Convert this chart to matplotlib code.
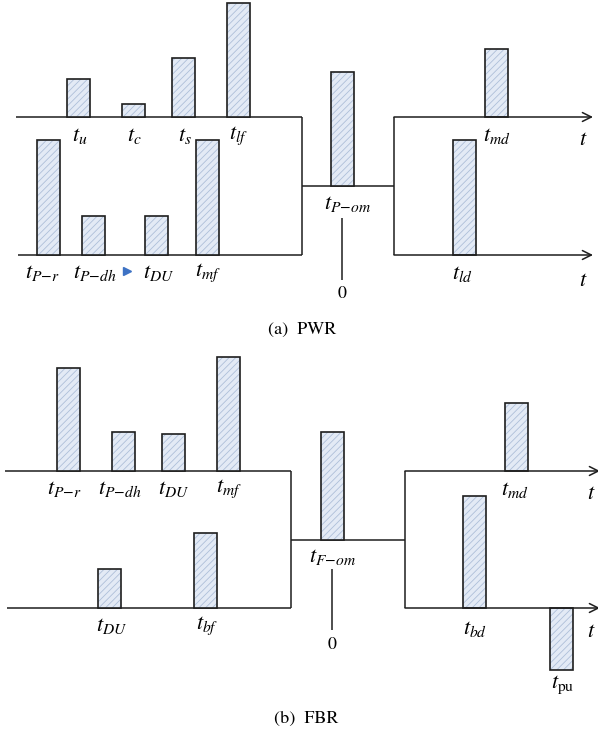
import matplotlib
matplotlib.use("Agg")
import matplotlib.pyplot as plt

plt.rcParams['mathtext.fontset'] = 'stix'
plt.rcParams['hatch.linewidth'] = 0.6

# ---------------- data ----------------
# PWR (a)
pwr_upper_labels = [r'$t_{u}$', r'$t_{c}$', r'$t_{s}$', r'$t_{lf}$']
pwr_upper_heights = [38, 13, 59, 114]
pwr_lower_labels = [r'$t_{P{-}r}$', r'$t_{P{-}dh}$', r'$t_{DU}$', r'$t_{mf}$']
pwr_lower_heights = [115, 39, 39, 115]
pwr_mid_labels = [r'$t_{P{-}om}$']
pwr_mid_heights = [114]
pwr_rup_labels = [r'$t_{md}$']
pwr_rup_heights = [68]
pwr_rlow_labels = [r'$t_{ld}$']
pwr_rlow_heights = [115]

# FBR (b)
fbr_upper_labels = [r'$t_{P{-}r}$', r'$t_{P{-}dh}$', r'$t_{DU}$', r'$t_{mf}$']
fbr_upper_heights = [103, 39, 37, 114]
fbr_lower_labels = [r'$t_{DU}$', r'$t_{bf}$']
fbr_lower_heights = [39, 75]
fbr_mid_labels = [r'$t_{F{-}om}$']
fbr_mid_heights = [108]
fbr_rup_labels = [r'$t_{md}$']
fbr_rup_heights = [68]
fbr_rlow_labels = [r'$t_{bd}$', r'$t_{\mathrm{pu}}$']
fbr_rlow_heights = [112, -62]

captions = ['(a)  PWR', '(b)  FBR']

# ---------------- layout ----------------
W, H = 598, 740
fig = plt.figure(figsize=(W / 100, H / 100), dpi=100)
ax = fig.add_axes([0, 0, 1, 1])
ax.set_xlim(0, W)
ax.set_ylim(H, 0)
ax.axis('off')

LC = '#1e1e1e'
LW = 1.1
FILL = '#e3eaf5'
HATCHC = '#aebfd9'
BW = 23
FS = 16


def line(x0, y0, x1, y1):
    ax.plot([x0, x1], [y0, y1], color=LC, lw=LW, solid_capstyle='butt')


def arrow(x0, x1, y):
    ax.annotate('', xy=(x1, y), xytext=(x0, y), annotation_clip=False,
                arrowprops=dict(arrowstyle='->', lw=LW, color=LC,
                                shrinkA=0, shrinkB=0, mutation_scale=16))


def bars(xs, heights, base, labels, label_pos):
    hs = [-h for h in heights]
    ax.bar(xs, hs, width=BW, bottom=base, color=FILL, edgecolor=HATCHC,
           hatch='/////', linewidth=0, zorder=2)
    ax.bar(xs, hs, width=BW, bottom=base, color='none', edgecolor=LC,
           linewidth=1.2, zorder=3)
    for lab, (lx, ly) in zip(labels, label_pos):
        ax.text(lx, ly, lab, fontsize=FS, ha='center', va='center')


def tlabel(x, y):
    ax.text(x, y, r'$t$', fontsize=FS, ha='center', va='center')


# ----- PWR -----
line(16, 117, 302, 117)
line(302, 117, 302, 255)
line(18, 255, 302, 255)
line(302, 186, 394, 186)
line(394, 117, 394, 255)
arrow(394, 593, 117)
arrow(394, 593, 255)
line(342, 218, 342, 280)
ax.text(342, 294, '0', fontsize=13, ha='center', va='center', family='STIXGeneral')
tlabel(583, 139)
tlabel(583, 280)

bars([78.5, 133.5, 183.5, 238.5], pwr_upper_heights, 117, pwr_upper_labels,
     [(80, 136), (134, 136), (185, 136), (239, 136)])
bars([48.5, 93.5, 156.5, 207.5], pwr_lower_heights, 255, pwr_lower_labels,
     [(42, 273), (95, 273), (159, 273), (208, 273)])
bars([342.5], pwr_mid_heights, 186, pwr_mid_labels, [(348, 204)])
bars([496.5], pwr_rup_heights, 117, pwr_rup_labels, [(497, 136)])
bars([464], pwr_rlow_heights, 255, pwr_rlow_labels, [(462, 274)])
ax.plot([127], [271], marker='>', color='#3d72c4', markersize=5.5, linestyle='none')
ax.text(302, 330, captions[0], fontsize=13, ha='center', va='center', family='STIXGeneral')

# ----- FBR -----
line(5, 471, 291, 471)
line(291, 471, 291, 608)
line(7, 608, 291, 608)
line(291, 540, 405, 540)
line(405, 471, 405, 608)
arrow(405, 600, 471)
arrow(405, 600, 608)
line(332, 569, 332, 630)
ax.text(332, 645, '0', fontsize=13, ha='center', va='center', family='STIXGeneral')
tlabel(591, 493)
tlabel(591, 631)

bars([68.5, 123.5, 173.5, 228], fbr_upper_heights, 471, fbr_upper_labels,
     [(64, 489), (120, 489), (174, 489), (229, 489)])
bars([109.5, 205.5], fbr_lower_heights, 608, fbr_lower_labels,
     [(112, 626), (207, 626)])
bars([332], fbr_mid_heights, 540, fbr_mid_labels, [(333, 557)])
bars([516], fbr_rup_heights, 471, fbr_rup_labels, [(515, 490)])
bars([474.5, 561.5], fbr_rlow_heights, 608, fbr_rlow_labels,
     [(475, 629), (563, 685)])
ax.text(306, 719, captions[1], fontsize=13, ha='center', va='center', family='STIXGeneral')

fig.savefig('out.png', dpi=100)
